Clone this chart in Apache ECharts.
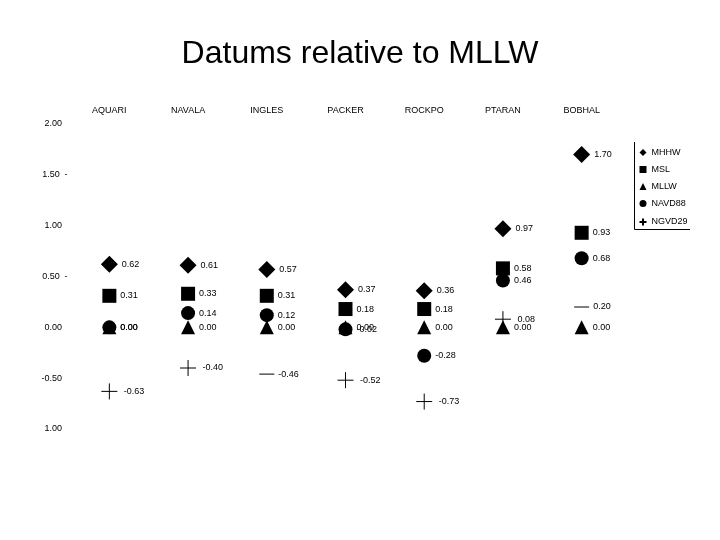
<!DOCTYPE html>
<html>
<head>
<meta charset="utf-8">
<title>Datums relative to MLLW</title>
<script src="https://cdn.jsdelivr.net/npm/echarts@6/dist/echarts.min.js"></script>
<style>
    html, body { margin: 0; padding: 0; background: #fff; }
    #main { width: 720px; height: 540px; }
</style>
</head>
<body>
<div id="main"></div>
<script>
    // stations along the top
    var stations = ['AQUARI', 'NAVALA', 'INGLES', 'PACKER', 'ROCKPO', 'PTARAN', 'BOBHAL'];
    // datum values (feet relative to MLLW)
    var mhhw = [0.62, 0.61, 0.57, 0.37, 0.36, 0.97, 1.70];
    var msl = [0.31, 0.33, 0.31, 0.18, 0.18, 0.58, 0.93];
    var mllw = [0.00, 0.00, 0.00, 0.00, 0.00, 0.00, 0.00];
    var navd88 = [0.00, 0.14, 0.12, -0.02, -0.28, 0.46, 0.68];
    var ngvd29 = [-0.63, -0.40, -0.46, -0.52, -0.73, 0.08, 0.20];
    // y tick labels as printed on the original (last one lost its minus)
    var yTicks = { '2': '2.00', '1.5': '1.50', '1': '1.00', '0.5': '0.50', '0': '0.00', '-0.5': '-0.50', '-1': '1.00' };
    var yDash = { '1.5': true, '0.5': true };

    var FONT = 'Liberation Sans, Arial, sans-serif';
    var plusPath = 'path://M0,8H16M8,0V16';
    // these two NGVD29 marks only show the horizontal stroke
    var dashOnly = [false, false, true, false, false, false, true];

    function lbl() {
        return {
            show: true,
            position: 'right',
            distance: 4,
            color: '#000',
            fontSize: 9,
            fontFamily: FONT,
            formatter: function (p) { return Number(p.value).toFixed(2); }
        };
    }

    var ngvdData = ngvd29.map(function (v, i) {
        if (dashOnly[i]) {
            return { value: v, symbol: 'rect', symbolSize: [15, 1], itemStyle: { color: '#000', borderWidth: 0 } };
        }
        return v;
    });

    var myChart = echarts.init(document.getElementById('main'));
    var option = {
        animation: false,
        backgroundColor: '#fff',
        title: {
            text: 'Datums relative to MLLW',
            left: 'center',
            top: 33,
            textStyle: { fontSize: 32, fontWeight: 'normal', color: '#000', fontFamily: FONT }
        },
        legend: {
            orient: 'vertical',
            left: 637,
            top: 148,
            padding: 0,
            itemWidth: 7,
            itemHeight: 7,
            itemGap: 8,
            textStyle: { fontSize: 9, color: '#000', fontFamily: FONT },
            data: ['MHHW', 'MSL', 'MLLW', 'NAVD88', 'NGVD29']
        },
        graphic: [
            { type: 'line', shape: { x1: 634.5, y1: 142, x2: 634.5, y2: 229.5 }, style: { stroke: '#000', lineWidth: 1 } },
            { type: 'line', shape: { x1: 634.5, y1: 229.5, x2: 690, y2: 229.5 }, style: { stroke: '#000', lineWidth: 1 } }
        ],
        grid: { left: 70, top: 124, width: 551, height: 305 },
        xAxis: {
            type: 'category',
            position: 'top',
            data: stations,
            boundaryGap: true,
            axisLine: { show: false },
            axisTick: { show: false },
            axisLabel: { fontSize: 9, color: '#000', margin: 9, fontFamily: FONT }
        },
        yAxis: {
            type: 'value',
            min: -1,
            max: 2,
            interval: 0.5,
            axisLine: { show: false },
            axisTick: { show: false },
            splitLine: { show: false },
            axisLabel: {
                align: 'left',
                margin: 30,
                formatter: function (v) {
                    var k = String(v);
                    return '{v|' + yTicks[k] + '}' + (yDash[k] ? '{s| -}' : '');
                },
                rich: {
                    v: { width: 22, align: 'right', fontSize: 9, color: '#000', fontFamily: FONT },
                    s: { fontSize: 9, color: '#000', fontFamily: FONT }
                }
            }
        },
        series: [
            { name: 'MLLW', type: 'scatter', data: mllw, symbol: 'triangle', symbolSize: 14, itemStyle: { color: '#000', opacity: 1 }, label: lbl() },
            { name: 'NAVD88', type: 'scatter', data: navd88, symbol: 'circle', symbolSize: 14, itemStyle: { color: '#000', opacity: 1 }, label: lbl() },
            { name: 'MSL', type: 'scatter', data: msl, symbol: 'rect', symbolSize: 14, itemStyle: { color: '#000', opacity: 1 }, label: lbl() },
            { name: 'MHHW', type: 'scatter', data: mhhw, symbol: 'diamond', symbolSize: 17, itemStyle: { color: '#000', opacity: 1 }, label: lbl() },
            {
                name: 'NGVD29', type: 'scatter', data: ngvdData, symbol: plusPath, symbolSize: 16,
                itemStyle: { color: 'none', borderColor: '#000', borderWidth: 1, opacity: 1 }, label: lbl()
            }
        ]
    };
    myChart.setOption(option);
</script>
</body>
</html>
